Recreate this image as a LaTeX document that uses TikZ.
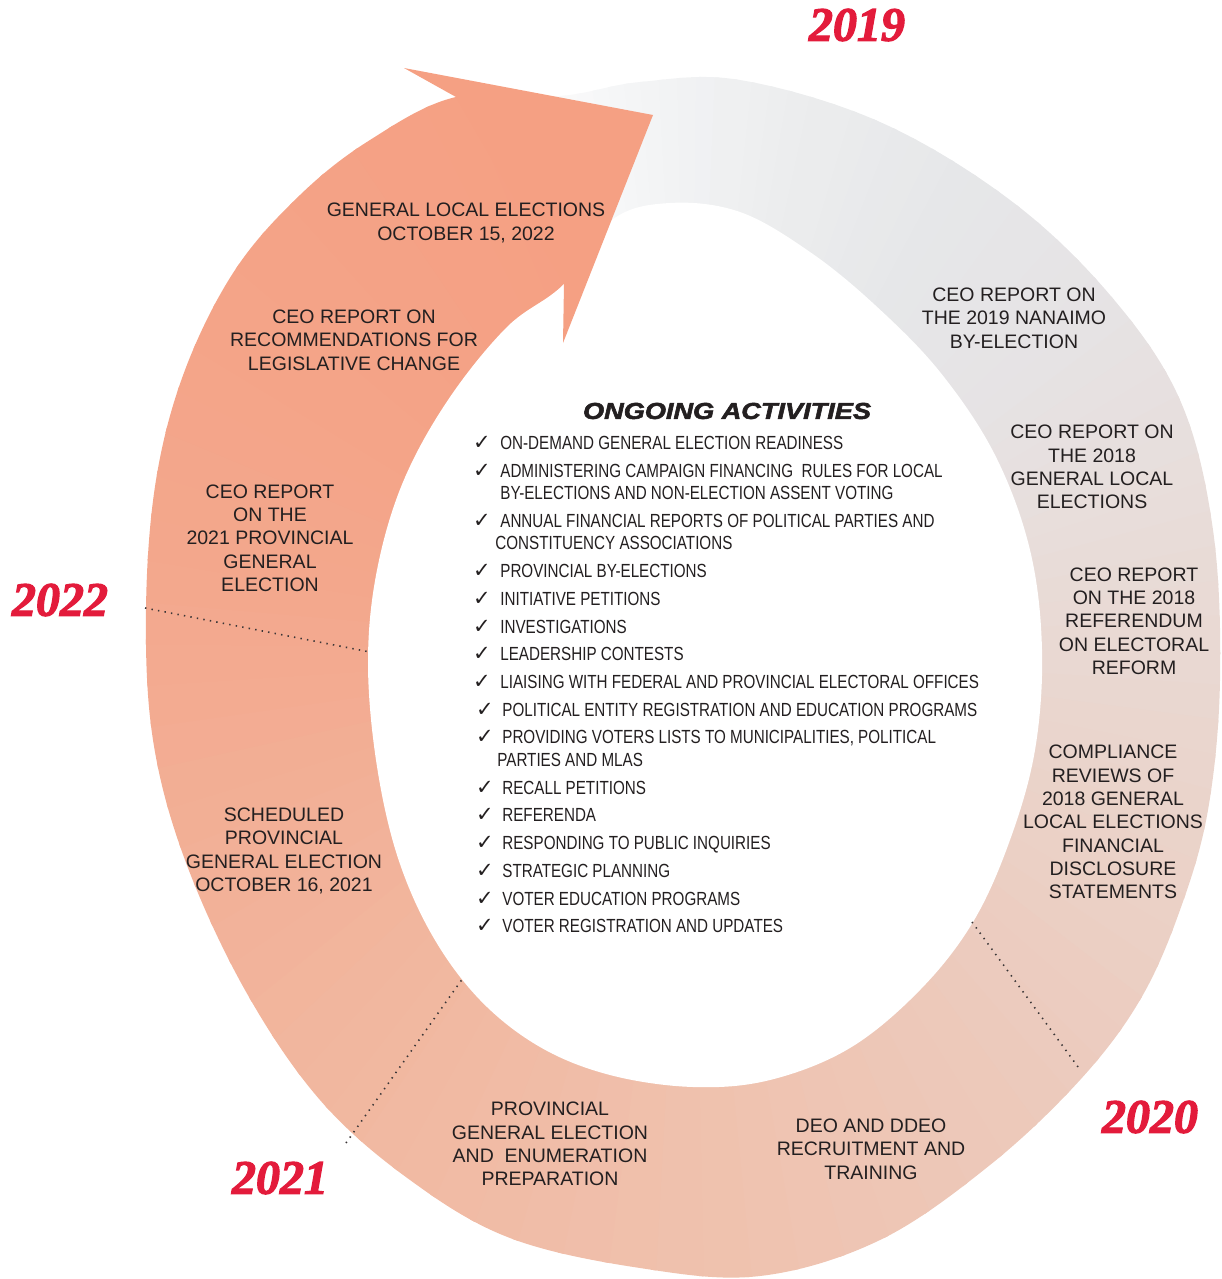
\documentclass[tikz,border=0pt]{standalone}
\usepackage{fontspec}
\setmainfont{Liberation Sans}
\newfontfamily\listfont[FakeStretch=0.8]{Liberation Sans}
\newfontfamily\headfont[FakeStretch=1.18,BoldItalicFeatures={FakeBold=2.5}]{Liberation Sans}
\newfontfamily\yearfont[BoldItalicFeatures={FakeBold=2.5}]{Liberation Serif}
\newfontfamily\tickfont{DejaVu Sans}

\definecolor{txt}{HTML}{231F20}
\definecolor{yearred}{HTML}{E31B3B}
\definecolor{arrowfill}{HTML}{F5A083}
% ring shades, light grey start round to salmon
\definecolor{ringa}{HTML}{FCFCFC}
\definecolor{ringb}{HTML}{F3F4F5}
\definecolor{ringc}{HTML}{ECEDEE}
\definecolor{ringd}{HTML}{E6E7E9}
\definecolor{ringe}{HTML}{E6E3E4}
\definecolor{ringf}{HTML}{E8DCD8}
\definecolor{ringg}{HTML}{EAD4CB}
\definecolor{ringh}{HTML}{ECCBBE}
\definecolor{ringi}{HTML}{EFC3B0}
\definecolor{ringj}{HTML}{F1BAA3}
\definecolor{ringk}{HTML}{F2B198}
\definecolor{ringl}{HTML}{F3A88D}
\definecolor{ringm}{HTML}{F4A387}
\definecolor{ringn}{HTML}{F5A083}

\tikzset{every picture/.style={line width=0.75pt}}
\tikzset{
  stage/.style={align=center, inner sep=0pt, text=txt, font=\fontsize{19.5}{23.3}\selectfont},
  year/.style={inner sep=0pt, text=yearred, font=\yearfont\bfseries\itshape\fontsize{48}{48}\selectfont},
  item/.style={anchor=base west, inner sep=0pt, text=txt, font=\listfont\fontsize{19}{22}\selectfont},
  chk/.style={anchor=base, inner sep=0pt, text=txt, font=\tickfont\bfseries\fontsize{21}{21}\selectfont},
  divider/.style={line width=1.6pt, dash pattern=on 1.4pt off 5.2pt, color=txt!90},
}

\begin{document}
\begin{tikzpicture}[x=1pt,y=-1pt]
\useasboundingbox (0,0) rectangle (1222,1279);
\coordinate (ctr) at (690,650);

%Shape: ring, shaded in thin wedges
\begin{scope}
  \clip plot[smooth cycle, tension=0.6] coordinates {
    (456,97) (560,96) (640,82) (740,80) (880,122) (1010,200) (1110,295)
    (1180,400) (1213,530) (1220,680) (1208,810) (1180,910) (1140,1000)
    (1080,1080) (990,1165) (880,1240) (760,1276) (640,1268) (510,1238)
    (410,1180) (320,1100) (245,990) (185,860) (153,740) (146,610)
    (156,480) (185,370) (235,270) (300,195) (370,140)};
  \foreach \tA/\tB/\cA/\cB in {-108/-95/ringa/ringb, -95/-80/ringb/ringc,
      -80/-62/ringc/ringd, -62/-40/ringd/ringe, -40/-15/ringe/ringf,
      -15/15/ringf/ringg, 15/45/ringg/ringh, 45/80/ringh/ringi,
      80/115/ringi/ringj, 115/150/ringj/ringk, 150/185/ringk/ringl,
      185/220/ringl/ringm, 220/252/ringm/ringn} {
    \foreach \s in {0,...,7} {
      \pgfmathsetmacro\angA{\tA+(\tB-\tA)*\s/8}
      \pgfmathsetmacro\angB{\tA+(\tB-\tA)*(\s+1)/8+0.5}
      \pgfmathtruncatemacro\mixpc{100*\s/8}
      \fill[\cB!\mixpc!\cA] (ctr) -- +(\angA:900) -- +(\angB:900) -- cycle;
    }
  }
\end{scope}
%Shape: hole of the ring
\fill[white] plot[smooth cycle, tension=0.6] coordinates {
  (564,284) (612,220) (670,203) (740,212) (810,252) (875,305)
  (940,372) (995,455) (1030,550) (1042,650) (1035,750) (1010,840)
  (973,922) (920,990) (850,1048) (770,1080) (693,1087) (610,1075)
  (540,1047) (480,1000) (432,935) (397,855) (376,760) (368,660)
  (377,570) (403,482) (448,400) (507,327)};

%Shape: arrow head
\fill[arrowfill] (404,68) -- (653,115) -- (563,343) -- (564,284) -- (456,97) -- cycle;

%Straight Lines: year dividers
\draw[divider] (145,608) -- (370,652);
\draw[divider] (346,1143) -- (463,978);
\draw[divider] (972,922) -- (1081,1071);

% years
\node[year] (y2019) at (857,25) {2019};
\node[year] (y2020) at (1150,1117) {2020};
\node[year] (y2021) at (280,1178) {2021};
\node[year] (y2022) at (60,600) {2022};

% stages round the ring
\node[stage] (glocal) at (466,223) {GENERAL LOCAL ELECTIONS\\OCTOBER 15, 2022};
\node[stage] (recomm) at (354,340) {CEO REPORT ON\\RECOMMENDATIONS FOR\\LEGISLATIVE CHANGE};
\node[stage] (rep2021) at (270,538) {CEO REPORT\\ON THE\\2021 PROVINCIAL\\GENERAL\\ELECTION};
\node[stage] (sched) at (284,851) {SCHEDULED\\PROVINCIAL\\GENERAL ELECTION\\OCTOBER 16, 2021};
\node[stage] (prep) at (550,1144) {PROVINCIAL\\GENERAL ELECTION\\AND\ \ ENUMERATION\\PREPARATION};
\node[stage] (deo) at (871,1149) {DEO AND DDEO\\RECRUITMENT AND\\TRAINING};
\node[stage] (compl) at (1113,822) {COMPLIANCE\\REVIEWS OF\\2018 GENERAL\\LOCAL ELECTIONS\\FINANCIAL\\DISCLOSURE\\STATEMENTS};
\node[stage] (referendum) at (1134,621) {CEO REPORT\\ON THE 2018\\REFERENDUM\\ON ELECTORAL\\REFORM};
\node[stage] (glocal18) at (1092,467) {CEO REPORT ON\\THE 2018\\GENERAL LOCAL\\ELECTIONS};
\node[stage] (nanaimo) at (1014,318) {CEO REPORT ON\\THE 2019 NANAIMO\\BY-ELECTION};

% ongoing list in the middle
\node[inner sep=0pt, text=txt, font=\headfont\bfseries\itshape\fontsize{23}{23}\selectfont] (ongoing) at (727,411) {ONGOING ACTIVITIES};
\foreach \x/\y/\t [count=\n] in {
    500/443/{ON-DEMAND GENERAL ELECTION READINESS},
    500/471/{ADMINISTERING CAMPAIGN FINANCING\ \ RULES FOR LOCAL},
    500/493/{BY-ELECTIONS AND NON-ELECTION ASSENT VOTING},
    500/521/{ANNUAL FINANCIAL REPORTS OF POLITICAL PARTIES AND},
    495/543/{CONSTITUENCY ASSOCIATIONS},
    500/571/{PROVINCIAL BY-ELECTIONS},
    500/599/{INITIATIVE PETITIONS},
    500/627/{INVESTIGATIONS},
    500/654/{LEADERSHIP CONTESTS},
    500/682/{LIAISING WITH FEDERAL AND PROVINCIAL ELECTORAL OFFICES},
    502/710/{POLITICAL ENTITY REGISTRATION AND EDUCATION PROGRAMS},
    502/737/{PROVIDING VOTERS LISTS TO MUNICIPALITIES, POLITICAL},
    497/760/{PARTIES AND MLAS},
    502/788/{RECALL PETITIONS},
    502/815/{REFERENDA},
    502/843/{RESPONDING TO PUBLIC INQUIRIES},
    502/871/{STRATEGIC PLANNING},
    502/899/{VOTER EDUCATION PROGRAMS},
    502/926/{VOTER REGISTRATION AND UPDATES}}
  \node[item] (ln\n) at (\x,\y+6.8) {\t};
\foreach \x/\y [count=\n] in {482/443, 482/471, 482/521, 482/571, 482/599,
    482/627, 482/654, 482/682, 485/710, 485/737, 485/788, 485/815,
    485/843, 485/871, 485/899, 485/926}
  \node[chk] (ck\n) at (\x,\y+6.8) {✓};
\end{tikzpicture}
\end{document}
